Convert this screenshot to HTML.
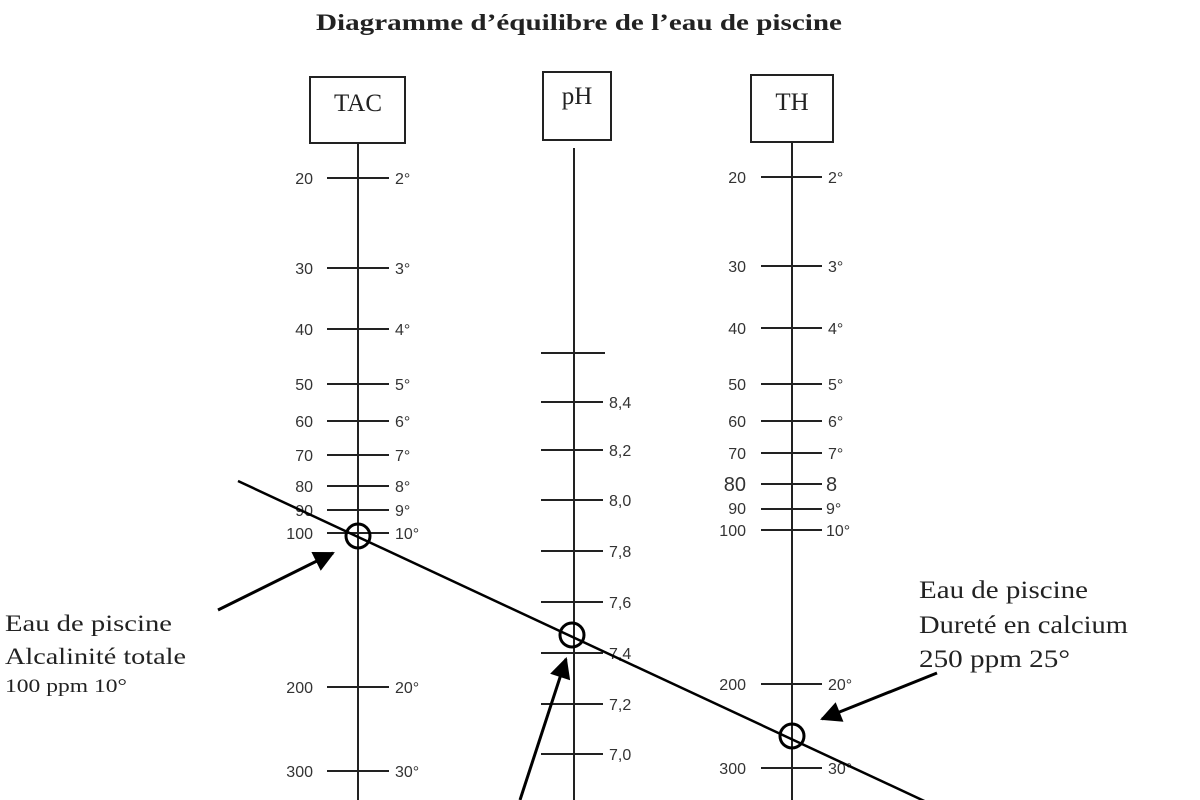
<!DOCTYPE html>
<html><head><meta charset="utf-8"><style>
html,body{margin:0;padding:0;background:#fff;}
svg{display:block;}
.t{font-family:"Liberation Sans",sans-serif;font-size:16px;fill:#333;}
.s{font-family:"Liberation Serif",serif;fill:#222;}
</style></head><body>
<svg width="1200" height="800" viewBox="0 0 1200 800" xmlns="http://www.w3.org/2000/svg">
<defs><marker id="ah" viewBox="0 0 10 10" refX="9" refY="5" markerWidth="9" markerHeight="7" orient="auto" markerUnits="strokeWidth"><path d="M0,0 L10,5 L0,10 z" fill="#000"/></marker></defs>
<text x="579" y="30" text-anchor="middle" class="s" font-size="23" font-weight="bold" textLength="526" lengthAdjust="spacingAndGlyphs">Diagramme d’équilibre de l’eau de piscine</text>

<g stroke="#222" stroke-width="2" fill="none">
<rect x="310" y="77" width="95" height="66"/>
<rect x="543" y="72" width="68" height="68"/>
<rect x="751" y="75" width="82" height="67"/>
<line x1="358" y1="143" x2="358" y2="800"/>
<line x1="574" y1="148" x2="574" y2="800"/>
<line x1="792" y1="142" x2="792" y2="800"/>
</g>
<g stroke="#222" stroke-width="2">
<line x1="327" x2="389" y1="178" y2="178"/><line x1="327" x2="389" y1="268" y2="268"/><line x1="327" x2="389" y1="329" y2="329"/><line x1="327" x2="389" y1="384" y2="384"/><line x1="327" x2="389" y1="421" y2="421"/><line x1="327" x2="389" y1="455" y2="455"/><line x1="327" x2="389" y1="486" y2="486"/><line x1="327" x2="389" y1="510" y2="510"/><line x1="327" x2="389" y1="533" y2="533"/><line x1="327" x2="389" y1="687" y2="687"/><line x1="327" x2="389" y1="771" y2="771"/>
<line x1="541" x2="605" y1="353" y2="353"/><line x1="541" x2="603" y1="402" y2="402"/><line x1="541" x2="603" y1="450" y2="450"/><line x1="541" x2="603" y1="500" y2="500"/><line x1="541" x2="603" y1="551" y2="551"/><line x1="541" x2="603" y1="602" y2="602"/><line x1="541" x2="603" y1="653" y2="653"/><line x1="541" x2="603" y1="704" y2="704"/><line x1="541" x2="603" y1="754" y2="754"/>
<line x1="761" x2="822" y1="177" y2="177"/><line x1="761" x2="822" y1="266" y2="266"/><line x1="761" x2="822" y1="328" y2="328"/><line x1="761" x2="822" y1="384" y2="384"/><line x1="761" x2="822" y1="421" y2="421"/><line x1="761" x2="822" y1="453" y2="453"/><line x1="761" x2="822" y1="484" y2="484"/><line x1="761" x2="822" y1="509" y2="509"/><line x1="761" x2="822" y1="530" y2="530"/><line x1="761" x2="822" y1="684" y2="684"/><line x1="761" x2="822" y1="768" y2="768"/>
</g>
<text x="358" y="111" text-anchor="middle" class="s" font-size="25">TAC</text>
<text x="577" y="104" text-anchor="middle" class="s" font-size="25">pH</text>
<text x="792" y="110" text-anchor="middle" class="s" font-size="25">TH</text>

<g class="t" text-anchor="end">
<text x="313" y="184">20</text><text x="313" y="274">30</text><text x="313" y="335">40</text><text x="313" y="390">50</text><text x="313" y="427">60</text><text x="313" y="461">70</text><text x="313" y="492">80</text><text x="313" y="516">90</text><text x="313" y="539">100</text><text x="313" y="693">200</text><text x="313" y="777">300</text>
<text x="746" y="183">20</text><text x="746" y="272">30</text><text x="746" y="334">40</text><text x="746" y="390">50</text><text x="746" y="427">60</text><text x="746" y="459">70</text><text x="746" y="491" font-size="20">80</text><text x="746" y="514">90</text><text x="746" y="536">100</text><text x="746" y="690">200</text><text x="746" y="774">300</text>
</g>
<g class="t">
<text x="395" y="184">2°</text><text x="395" y="274">3°</text><text x="395" y="335">4°</text><text x="395" y="390">5°</text><text x="395" y="427">6°</text><text x="395" y="461">7°</text><text x="395" y="492">8°</text><text x="395" y="516">9°</text><text x="395" y="539">10°</text><text x="395" y="693">20°</text><text x="395" y="777">30°</text>
<text x="609" y="408">8,4</text><text x="609" y="456">8,2</text><text x="609" y="506">8,0</text><text x="609" y="557">7,8</text><text x="609" y="608">7,6</text><text x="609" y="659">7,4</text><text x="609" y="710">7,2</text><text x="609" y="760">7,0</text><text x="609" y="811">6,8</text>
<text x="828" y="183">2°</text><text x="828" y="272">3°</text><text x="828" y="334">4°</text><text x="828" y="390">5°</text><text x="828" y="427">6°</text><text x="828" y="459">7°</text><text x="826" y="491" font-size="20">8</text><text x="826" y="514">9°</text><text x="826" y="536">10°</text><text x="828" y="690">20°</text><text x="828" y="774">30°</text>
</g>

<line x1="238" y1="481" x2="935" y2="806" stroke="#000" stroke-width="2.5"/>
<g stroke="#000" stroke-width="3" fill="none">
<circle cx="358" cy="536" r="12"/>
<circle cx="572" cy="635" r="12"/>
<circle cx="792" cy="736" r="12"/>
</g>
<g stroke="#000" stroke-width="3" fill="none" marker-end="url(#ah)">
<line x1="218" y1="610" x2="333" y2="553"/>
<line x1="520" y1="800" x2="566" y2="659"/>
<line x1="937" y1="673" x2="822" y2="719"/>
</g>

<g class="s">
<text x="5" y="631" font-size="23" textLength="167" lengthAdjust="spacingAndGlyphs">Eau de piscine</text>
<text x="5" y="664" font-size="23" textLength="181" lengthAdjust="spacingAndGlyphs">Alcalinité totale</text>
<text x="5" y="692" font-size="19" textLength="122" lengthAdjust="spacingAndGlyphs">100 ppm 10°</text>
<text x="919" y="598" font-size="25" textLength="169" lengthAdjust="spacingAndGlyphs">Eau de piscine</text>
<text x="919" y="633" font-size="25" textLength="209" lengthAdjust="spacingAndGlyphs">Dureté en calcium</text>
<text x="919" y="667" font-size="25" textLength="151" lengthAdjust="spacingAndGlyphs">250 ppm 25°</text>
</g>
</svg>
</body></html>
